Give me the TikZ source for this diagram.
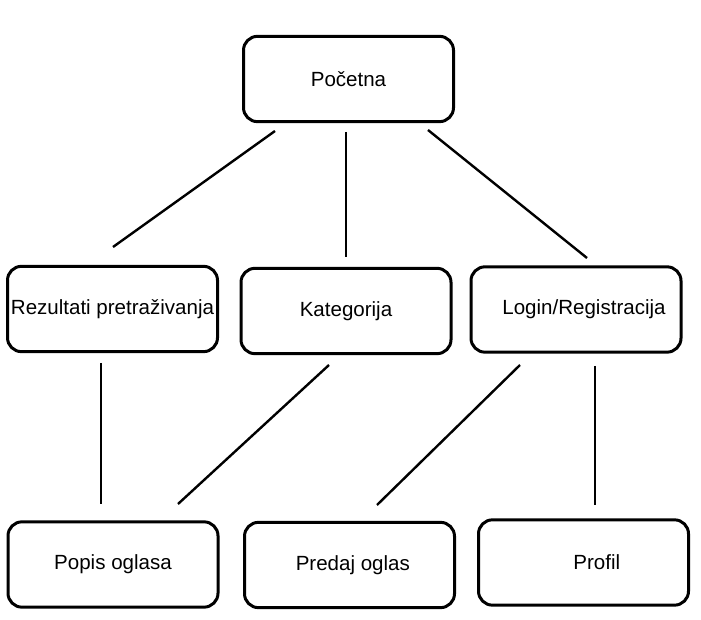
\documentclass[tikz,border=0pt]{standalone}
\usepackage{fontspec}
\setmainfont{Liberation Sans}
\tikzset{blok/.style={draw, rounded corners=10.5pt, line width=2.25pt, minimum width=157.5pt, minimum height=64pt, inner sep=1pt, font=\fontsize{15.4}{18}\selectfont}}
\tikzset{veza/.style={line width=1.8pt}}

\begin{document}
\begin{tikzpicture}[x=0.75pt, y=-0.75pt]
        \useasboundingbox (0,0) rectangle (701,620);
        \node[blok] (pocetna) at (348.5,79) {Početna};
        \node[blok] (rezultati) at (112.5,309) {Rezultati pretraživanja};
        \node[blok] (kategorija) at (346,311) {Kategorija};
        \node[blok] (login) at (576,309.5) {\hspace{12pt}Login/Registracija};
        \node[blok] (popis) at (113,564.5) {Popis oglasa\hspace{16pt}};
        \node[blok] (predaj) at (349.5,565) {\hspace{5pt}Predaj oglas};
        \node[blok] (profil) at (583.5,562.5) {\hspace{20pt}Profil};
        % krajevi veza
        \coordinate (p1) at (275,131);
        \coordinate (p2) at (346,132);
        \coordinate (p3) at (428,130);
        \coordinate (r0) at (113,247);
        \coordinate (k0) at (346,257);
        \coordinate (l0) at (587,258);
        \coordinate (r1) at (101,363);
        \coordinate (k1) at (329,365);
        \coordinate (l1) at (520,365);
        \coordinate (l2) at (595,366);
        \coordinate (o1) at (101,504);
        \coordinate (o2) at (178,504);
        \coordinate (d1) at (377,505);
        \coordinate (f1) at (595,505);
        \draw[veza] (p1) -- (r0);
        \draw[veza] (p2) -- (k0);
        \draw[veza] (p3) -- (l0);
        \draw[veza] (r1) -- (o1);
        \draw[veza] (k1) -- (o2);
        \draw[veza] (l1) -- (d1);
        \draw[veza] (l2) -- (f1);
    \end{tikzpicture}
\end{document}
